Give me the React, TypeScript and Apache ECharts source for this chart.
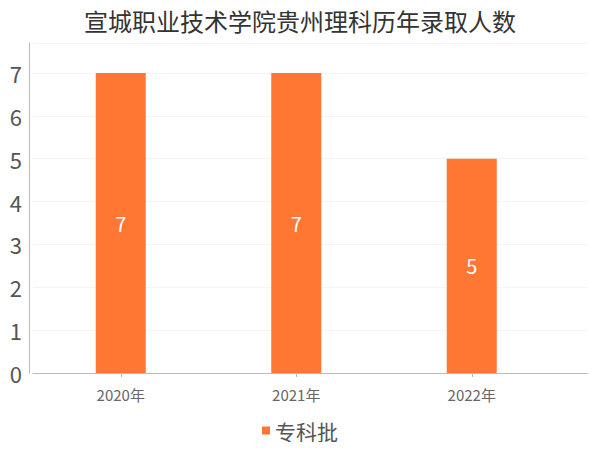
import { useEffect, useRef } from "react";
import * as echarts from "echarts";

const years = ["2020年", "2021年", "2022年"];
const counts = [7, 7, 5];
const seriesName = "专科批";
const chartTitle = "宣城职业技术学院贵州理科历年录取人数";

const FONT = "'Noto Sans CJK SC', 'Noto Sans', sans-serif";

export default function App() {
  const chartRef = useRef<HTMLDivElement>(null);

  useEffect(() => {
    if (!chartRef.current) return;
    const chart = echarts.init(chartRef.current, null, { renderer: "svg" });

    const option = {
      animation: false,
      textStyle: { fontFamily: FONT },
      title: {
        text: chartTitle,
        left: "center",
        top: 3,
        textStyle: { fontSize: 24, fontWeight: "normal", color: "#333", fontFamily: FONT },
      },
      legend: {
        bottom: 4,
        left: "center",
        itemWidth: 8,
        itemHeight: 8,
        icon: "rect",
        textStyle: { fontSize: 21, color: "#555", fontFamily: FONT },
        data: [seriesName],
      },
      // grid 0 holds the bars, grid 1 is the wider frame (axis line + split lines)
      grid: [
        { left: 33, top: 43, width: 526.5, height: 330 },
        { left: 33, top: 43, right: 12, height: 330 },
      ],
      xAxis: [
        {
          type: "category",
          gridIndex: 0,
          data: years,
          offset: 5,
          axisLine: { show: false },
          axisTick: { show: true, alignWithLabel: true, length: 4, lineStyle: { color: "#bbb" } },
          axisLabel: { fontSize: 15, color: "#666", margin: 9, fontFamily: FONT },
        },
        {
          type: "category",
          gridIndex: 1,
          data: [""],
          offset: 5,
          axisLine: { show: true, lineStyle: { color: "#bbb" } },
          axisTick: { show: false },
          axisLabel: { show: false },
        },
      ],
      yAxis: [
        { type: "value", gridIndex: 0, min: 0, max: 7.7, interval: 1, show: false },
        {
          type: "value",
          gridIndex: 1,
          min: 0,
          max: 7.7,
          interval: 1,
          offset: 4,
          axisLine: { show: true, lineStyle: { color: "#bbb" } },
          axisTick: { show: false },
          axisLabel: {
            fontSize: 22,
            color: "#555",
            margin: 7,
            fontFamily: FONT,
            formatter: (v: number) => (Number.isInteger(v) ? String(v) : ""),
          },
          splitLine: { show: true, lineStyle: { color: "#f4f4f4" } },
        },
      ],
      series: [
        {
          name: seriesName,
          type: "bar",
          xAxisIndex: 0,
          yAxisIndex: 0,
          data: counts,
          barWidth: 50,
          itemStyle: { color: "#ff7733" },
          label: { show: true, position: "inside", color: "#fff", fontSize: 20, fontFamily: FONT },
        },
      ],
    };

    chart.setOption(option);
    return () => {
      chart.dispose();
    };
  }, []);

  return <div ref={chartRef} style={{ width: 600, height: 450, margin: -8 }} />;
}
